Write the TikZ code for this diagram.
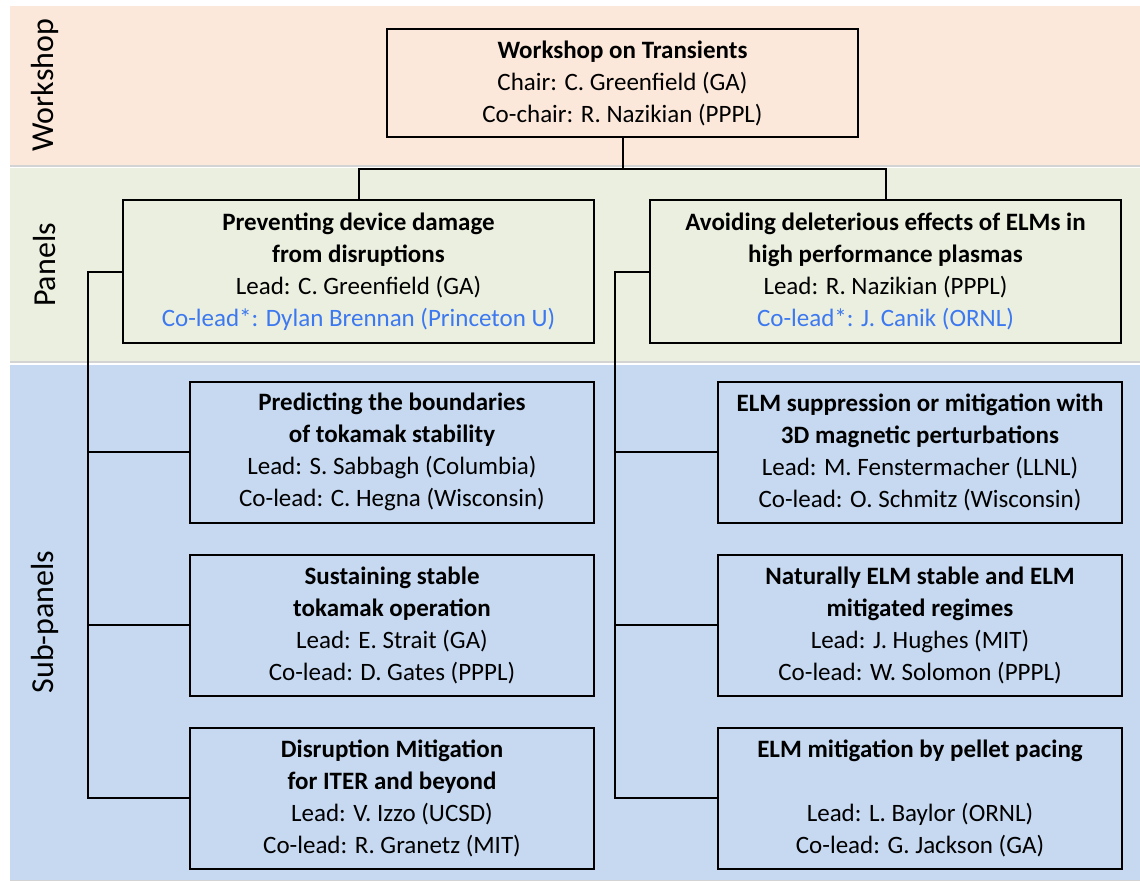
\documentclass[tikz,border=0pt]{standalone}
\usepackage{fontspec}
\setmainfont{Carlito}
\usetikzlibrary{positioning,calc,shadows}
\definecolor{wsband}{HTML}{FCE8DA}
\definecolor{panelband}{HTML}{EBEFDF}
\definecolor{subband}{HTML}{C6D9F1}
\definecolor{colead}{HTML}{3C78F0}

\begin{document}
\begin{tikzpicture}[x=0.5pt, y=-0.5pt,
    band/.style={drop shadow={opacity=0.35, shadow xshift=0pt, shadow yshift=-1.2pt}},
    boxtext/.style={draw, line width=1pt, inner sep=0pt, align=center, font=\fontsize{12.5}{16}\selectfont},
    widebox/.style={boxtext, minimum width=235.5pt},
    subbox/.style={boxtext, minimum width=202pt, minimum height=70.5pt},
    sidelabel/.style={rotate=90, font=\fontsize{16}{18}\selectfont},
    link/.style={line width=1pt}]
  \useasboundingbox (0,0) rectangle (1140,880);

  % background bands
  \fill[wsband, band] (10,6) rectangle (1140,165);
  \fill[panelband, band] (10,168) rectangle (1140,361);
  \fill[subband, band] (10,365) rectangle (1140,880);

  \node (lblws) [sidelabel] at (45,85) {Workshop};
  \node (lblpanel) [sidelabel] at (45,265) {Panels};
  \node (lblsub) [sidelabel] at (45,622) {Sub-panels};

  % workshop
  \node (ws) [widebox, minimum height=54pt] at (622.5,83) {\textbf{Workshop on Transients}\\Chair: C. Greenfield (GA)\\Co-chair: R. Nazikian (PPPL)};

  % panels
  \node (prevent) [widebox, minimum height=71.5pt] at (358.5,271.5) {\textbf{Preventing device damage}\\\textbf{from disruptions}\\Lead: C. Greenfield (GA)\\\textcolor{colead}{Co-lead*: Dylan Brennan (Princeton U)}};
  \node (avoid) [widebox, minimum height=71.5pt, right=27pt of prevent] {\textbf{Avoiding deleterious effects of ELMs in}\\\textbf{high performance plasmas}\\Lead: R. Nazikian (PPPL)\\\textcolor{colead}{Co-lead*: J. Canik (ORNL)}};

  % sub-panels
  \node (predict) [subbox] at (392,452) {\textbf{Predicting the boundaries}\\\textbf{of tokamak stability}\\Lead: S. Sabbagh (Columbia)\\Co-lead: C. Hegna (Wisconsin)};
  \node (sustain) [subbox, below=15pt of predict] {\textbf{Sustaining stable}\\\textbf{tokamak operation}\\Lead: E. Strait (GA)\\Co-lead: D. Gates (PPPL)};
  \node (dismit) [subbox, below=15pt of sustain] {\textbf{Disruption Mitigation}\\\textbf{for ITER and beyond}\\Lead: V. Izzo (UCSD)\\Co-lead: R. Granetz (MIT)};

  \node (rmp) [subbox, right=61pt of predict] {\textbf{ELM suppression or mitigation with}\\\textbf{3D magnetic perturbations}\\Lead: M. Fenstermacher (LLNL)\\Co-lead: O. Schmitz (Wisconsin)};
  \node (natural) [subbox, right=61pt of sustain] {\textbf{Naturally ELM stable and ELM}\\\textbf{mitigated regimes}\\Lead: J. Hughes (MIT)\\Co-lead: W. Solomon (PPPL)};
  \node (pellet) [subbox, right=61pt of dismit] {\textbf{ELM mitigation by pellet pacing}\\[16pt]Lead: L. Baylor (ORNL)\\Co-lead: G. Jackson (GA)};

  % connectors
  \coordinate (split) at ($(ws.south)+(0,31)$);
  \draw [link] (ws.south) -- (split);
  \draw [link] (prevent.north) |- (split) -| (avoid.north);

  \draw [link] (prevent.west) -- ++(-34,0) coordinate (ltrunk) |- (dismit.west);
  \draw [link] (ltrunk |- predict.west) -- (predict.west);
  \draw [link] (ltrunk |- sustain.west) -- (sustain.west);

  \draw [link] (avoid.west) -- ++(-34,0) coordinate (rtrunk) |- (pellet.west);
  \draw [link] (rtrunk |- rmp.west) -- (rmp.west);
  \draw [link] (rtrunk |- natural.west) -- (natural.west);
\end{tikzpicture}
\end{document}
